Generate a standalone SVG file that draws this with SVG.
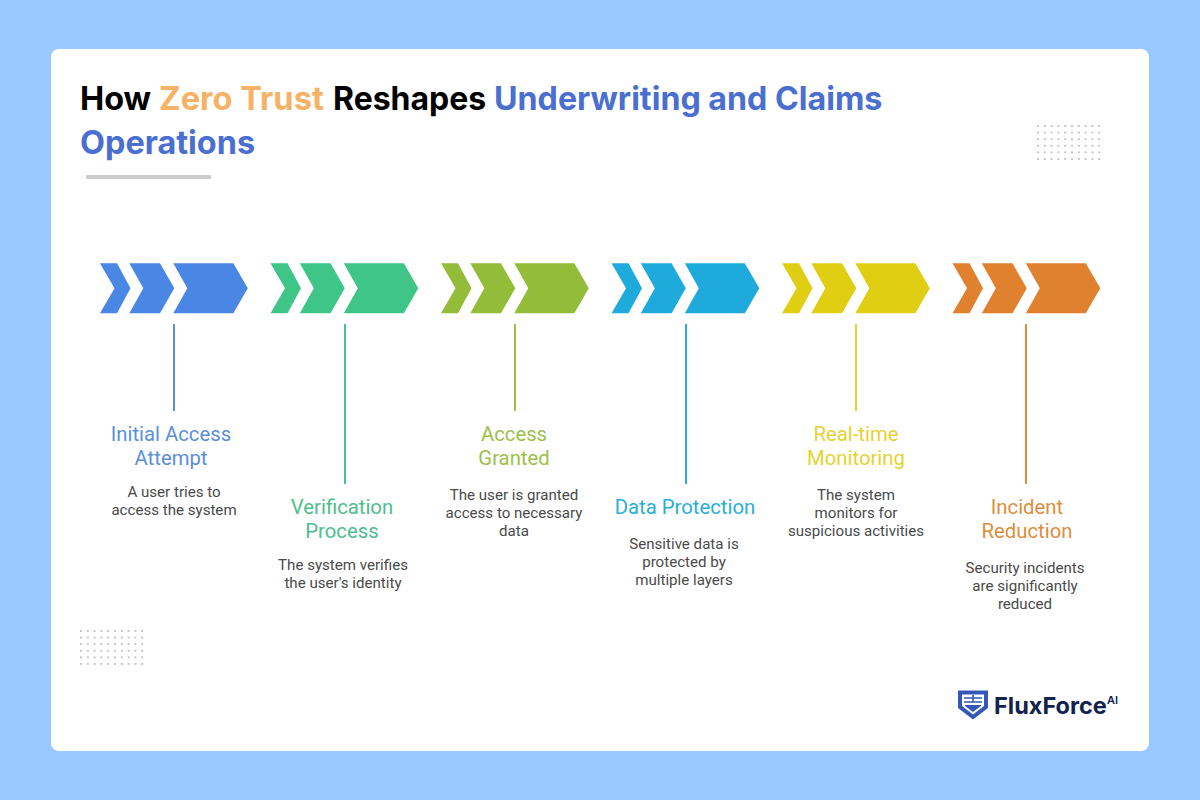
<svg xmlns="http://www.w3.org/2000/svg" width="1200" height="800" viewBox="0 0 1200 800">
<style>
.title{font-family:"Inter","Liberation Sans",sans-serif;font-weight:700;font-size:32.4px}
.h{font-family:"Roboto","Liberation Sans",sans-serif;font-size:20.3px;text-anchor:middle}
.b{font-family:"Roboto","Liberation Sans",sans-serif;font-size:15.1px;fill:#4a4a4a;text-anchor:middle}
.c{fill:none;stroke-width:2}
</style>
<defs>
<g id="chev">
<path d="M0 0.3H17L30.5 25.3L17 50.3H0L14.5 25.3Z"/>
<path d="M29.3 0.3H60L74.3 25.3L60 50.3H29.3L43.3 25.3Z"/>
<path d="M73.3 0.3H133.3L147.8 25.3L133.3 50.3H73.3L87.3 25.3Z"/>
</g>
<pattern id="dots" width="6.8" height="6.6" patternUnits="userSpaceOnUse"><circle cx="1" cy="1" r="0.65" fill="#555"/></pattern>
</defs>
<rect width="1200" height="800" fill="#99c9ff"/>
<rect x="51" y="49" width="1098" height="702" rx="8" fill="#fff"/>
<g id="title">
<text class="title" y="110"><tspan x="80" fill="#000">How</tspan><tspan x="159" fill="#f6b266" font-size="32.6">Zero Trust</tspan><tspan x="333" fill="#000" font-size="32">Reshapes</tspan><tspan x="494" fill="#4a6fd0" font-size="32.2">Underwriting and Claims</tspan></text>
<text class="title" x="80" y="154" fill="#4a6fd0">Operations</text>
<rect x="86" y="175" width="125" height="4" rx="1" fill="#cccccc"/>
</g>
<g id="dots-top" transform="translate(1037 125)"><rect width="64" height="36" fill="url(#dots)"/></g>
<g id="dots-bottom" transform="translate(80 630)"><rect width="64" height="36" fill="url(#dots)"/></g>
<g id="connectors">
<path class="c" stroke="#5b8fd6" d="M174 324V411"/>
<path class="c" stroke="#4fbd8f" d="M345 324V484"/>
<path class="c" stroke="#9cc04a" d="M515 324V411"/>
<path class="c" stroke="#2aaed8" d="M686 324V484"/>
<path class="c" stroke="#e3d331" d="M856 324V411"/>
<path class="c" stroke="#dd8e3c" d="M1026 324V484"/>
</g>
<g id="step-1">
<use href="#chev" x="100" y="263" fill="#4a86e4"/>
<text class="h" fill="#5b8fd6" x="171" y="441">Initial Access</text><text class="h" fill="#5b8fd6" x="171" y="465.200">Attempt</text>
<text class="b" x="174" y="497">A user tries to</text><text class="b" x="174" y="515">access the system</text>
</g>
<g id="step-2">
<use href="#chev" x="270.5" y="263" fill="#3ec587"/>
<text class="h" fill="#4fbd8f" x="342" y="514">Verification</text><text class="h" fill="#4fbd8f" x="342" y="538.200">Process</text>
<text class="b" x="343" y="570">The system verifies</text><text class="b" x="343" y="588">the user's identity</text>
</g>
<g id="step-3">
<use href="#chev" x="441" y="263" fill="#93bc38"/>
<text class="h" fill="#9cc04a" x="514" y="441">Access</text><text class="h" fill="#9cc04a" x="514" y="465.200">Granted</text>
<text class="b" x="514" y="500">The user is granted</text><text class="b" x="514" y="518">access to necessary</text><text class="b" x="514" y="536">data</text>
</g>
<g id="step-4">
<use href="#chev" x="611.5" y="263" fill="#1eabdc"/>
<text class="h" fill="#2aaed8" x="685" y="514">Data Protection</text>
<text class="b" x="684" y="549">Sensitive data is</text><text class="b" x="684" y="567">protected by</text><text class="b" x="684" y="585">multiple layers</text>
</g>
<g id="step-5">
<use href="#chev" x="782" y="263" fill="#e0ce12"/>
<text class="h" fill="#e3d331" x="856" y="441">Real-time</text><text class="h" fill="#e3d331" x="856" y="465.200">Monitoring</text>
<text class="b" x="856" y="500">The system</text><text class="b" x="856" y="518">monitors for</text><text class="b" x="856" y="536">suspicious activities</text>
</g>
<g id="step-6">
<use href="#chev" x="952.500" y="263" fill="#e0812f"/>
<text class="h" fill="#dd8e3c" x="1027" y="514">Incident</text><text class="h" fill="#dd8e3c" x="1027" y="538.200">Reduction</text>
<text class="b" x="1025" y="573">Security incidents</text><text class="b" x="1025" y="591">are significantly</text><text class="b" x="1025" y="609">reduced</text>
</g>
<g id="logo">
<path d="M958 690.500H988V708L973 719.500L958 708Z" fill="#3558b8"/>
<path d="M962 694.500H984V706L973 714.500L962 706Z" fill="#fff"/>
<path d="M965 705H981V706L973 712L965 706Z" fill="#3558b8"/>
<path d="M964 698H982M964 702H982M973 695V702" stroke="#3558b8" stroke-width="1.6" fill="none"/>
<text x="994" y="714" font-family="Inter,'Liberation Sans',sans-serif" font-weight="700" font-size="23.500" fill="#14224f">FluxForce</text>
<text x="1107" y="704" font-family="Inter,'Liberation Sans',sans-serif" font-weight="600" font-size="11" fill="#14224f">AI</text>
</g>
</svg>
